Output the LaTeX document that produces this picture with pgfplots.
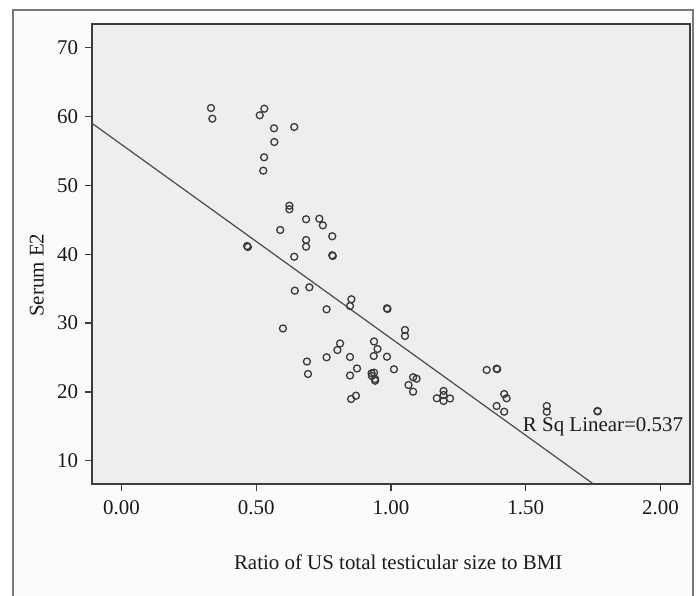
\documentclass[border=0pt]{standalone}
\usepackage{fontspec}
\setmainfont{Liberation Serif}
\usepackage{pgfplots}
\pgfplotsset{compat=1.18}
\definecolor{plotbg}{HTML}{EEEEEE}
\definecolor{framefill}{HTML}{FBFBFB}
\definecolor{framegray}{HTML}{7A7A7A}
\definecolor{axisgray}{HTML}{3C3C3C}
\definecolor{markcol}{HTML}{3A3A3A}
\definecolor{linecol}{HTML}{4A4A4A}
\definecolor{textcol}{HTML}{1A1A1A}
\newcommand{\spssfont}{\fontsize{21}{25}\selectfont}

\begin{document}
\begin{tikzpicture}
% light panel inside the outer frame
\fill[framefill] (-79bp,-112bp) rectangle (601bp,474bp);
\begin{axis}[
  name=ax,
  scale only axis,
  width=598bp, height=460bp,
  xmin=-0.1095, xmax=2.1095,
  ymin=6.63, ymax=73.44,
  xtick={0,0.5,1,1.5,2},
  ytick={10,20,30,40,50,60,70},
  % negative inside ticks point outwards and leave label placement fixed
  tick align=inside,
  tick pos=left,
  major tick length=-7bp,
  axis background/.style={fill=plotbg},
  axis line style={draw=axisgray, line width=1.3bp},
  every tick/.style={draw=axisgray, line width=1.3bp},
  /pgf/number format/assume math mode=true,
  xticklabel style={/pgf/number format/.cd, fixed, fixed zerofill, precision=2},
  tick label style={font=\spssfont, text=textcol, inner sep=0pt},
  xticklabel shift=16bp,
  yticklabel shift=13.7bp,
  xlabel={Ratio of US total testicular size to BMI},
  ylabel={Serum E2},
  label style={font=\spssfont, text=textcol},
  xlabel style={at={(axis description cs:0.512,-0.1696)}, anchor=center},
  ylabel style={at={(axis description cs:-0.0925,0.454)}, anchor=center},
]
\addplot[only marks, mark=o, mark size=3.5bp,
  mark options={draw=markcol, line width=1.3bp}]
  coordinates {
  (0.332,61.24) (0.337,59.69) (0.530,61.14) (0.513,60.18)
  (0.566,58.29) (0.641,58.48) (0.567,56.30) (0.529,54.08)
  (0.526,52.14) (0.623,47.05) (0.623,46.53) (0.685,45.08)
  (0.734,45.16) (0.747,44.20) (0.589,43.52) (0.782,42.61)
  (0.685,42.07) (0.685,41.10) (0.466,41.20) (0.469,41.05)
  (0.641,39.64) (0.782,39.85) (0.784,39.75)
  (0.643,34.71) (0.697,35.20) (0.853,33.46) (0.848,32.48)
  (0.761,32.00) (0.985,32.15) (0.987,32.05) (0.599,29.22)
  (1.052,29.00) (1.052,28.13) (0.811,27.04) (0.801,26.09)
  (0.937,27.33) (0.950,26.24) (0.688,24.42) (0.692,22.61)
  (0.761,25.03) (0.848,25.08) (0.936,25.22) (0.985,25.12)
  (0.874,23.41) (0.848,22.39) (1.011,23.29) (0.928,22.71)
  (0.937,22.80) (0.941,21.63) (0.929,22.32) (0.941,21.88)
  (1.082,22.13) (1.095,21.92) (1.065,21.01) (1.082,20.04)
  (0.852,18.98) (0.870,19.45) (1.170,19.08) (1.195,20.14)
  (1.195,19.56) (1.195,18.69) (1.219,19.05)
  (1.355,23.19) (1.392,23.38) (1.394,23.30)
  (1.420,19.70) (1.429,19.08) (1.392,17.96) (1.420,17.13)
  (1.578,17.96) (1.578,17.13) (1.766,17.23) (1.767,17.18)
  };
% fit line
\addplot[linecol, line width=1.2bp] coordinates {(-0.1095,59.02) (1.751,6.63)};
\node[anchor=base west, inner sep=0pt, font=\spssfont, text=textcol]
  at (axis cs:1.489,14.23) {R Sq Linear=0.537};
\end{axis}
% outer frame (open at the bottom, as in the cut-off original)
\draw[framegray, line width=1.6bp] (-79bp,-120bp) -- (-79bp,474bp) -- (601bp,474bp) -- (601bp,-120bp);
\pgfresetboundingbox
\useasboundingbox (-92bp,-112bp) rectangle (604bp,484bp);
\end{tikzpicture}
\end{document}
